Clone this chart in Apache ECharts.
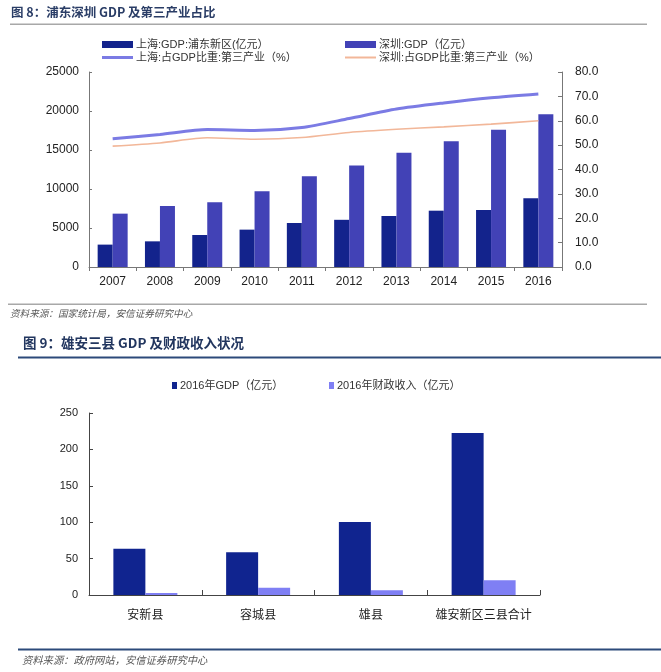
<!DOCTYPE html>
<html><head><meta charset="utf-8">
<script src="https://cdn.jsdelivr.net/npm/echarts@6/dist/echarts.min.js"></script>
<style>html,body{margin:0;padding:0;background:#fff}#c{width:661px;height:672px}</style>
</head><body><div id="c"></div>
<script>
// Chart 8 data
const years = ['2007','2008','2009','2010','2011','2012','2013','2014','2015','2016'];
const pudongGDP = [2870, 3290, 4100, 4790, 5640, 6050, 6540, 7220, 7310, 8800];
const shenzhenGDP = [6840, 7820, 8290, 9700, 11620, 13010, 14660, 16110, 17610, 19580];
const shanghaiTertiary = [52.6, 54.4, 56.4, 56.0, 57.2, 60.9, 64.8, 67.3, 69.4, 71.0];
const shenzhenTertiary = [49.6, 50.9, 53.0, 52.4, 53.1, 55.2, 56.5, 57.5, 58.6, 60.0];
// Chart 9 data
const counties = ['安新县','容城县','雄县','雄安新区三县合计'];
const gdp2016 = [63.6, 58.6, 100.3, 222.5];
const fiscal2016 = [2.7, 10.0, 6.4, 20.1];

const names = ['上海:GDP:浦东新区(亿元）','深圳:GDP（亿元）','上海:占GDP比重:第三产业（%）','深圳:占GDP比重:第三产业（%）','2016年GDP（亿元）','2016年财政收入（亿元）'];
const C = {dark:'#13238c', light:'#4242b6', sh:'#7b7be4', sz:'#f2b799', d2:'#10248f', l2:'#7f7ff4'};
const font = '"Liberation Sans", "Noto Sans CJK SC", sans-serif';
const txt = {color:'#333', fontSize:11, fontFamily:font};

function lg(name, left, top, icon, w, h) {
  return {data:[name], left:left, top:top, icon:icon, itemWidth:w, itemHeight:h, padding:0, itemGap:0, textStyle:Object.assign({}, txt, {padding:[0,0,0,-2]}), selectedMode:false};
}

const chart = echarts.init(document.getElementById('c'), null, {renderer:'canvas'});
chart.setOption({
  animation:false,
  backgroundColor:'#fff',
  textStyle:{fontFamily:font},
  legend:[
    lg(names[0], 102, 39, 'rect', 31, 7),
    lg(names[1], 345, 39, 'rect', 31, 7),
    lg(names[2], 102, 52, 'rect', 31, 3),
    lg(names[3], 345, 52, 'rect', 31, 2),
    lg(names[4], 172, 380, 'rect', 5, 7),
    lg(names[5], 329, 380, 'rect', 5, 7)
  ],
  grid:[
    {left:89, width:473, top:72, height:195},
    {left:89, width:451, top:413, height:182}
  ],
  xAxis:[
    {type:'category', gridIndex:0, data:years,
     axisLine:{lineStyle:{color:'#777'}}, axisTick:{show:true, length:4, lineStyle:{color:'#777'}},
     axisLabel:{color:'#222', fontSize:12, margin:9, fontFamily:font, interval:0}},
    {type:'category', gridIndex:1, data:counties,
     axisLine:{lineStyle:{color:'#444'}}, axisTick:{show:true, inside:true, length:5, lineStyle:{color:'#444'}},
     axisLabel:{color:'#222', fontSize:12, margin:15, fontFamily:font, interval:0}}
  ],
  yAxis:[
    {type:'value', gridIndex:0, min:0, max:25000, interval:5000, splitLine:{show:false},
     axisLine:{show:true, lineStyle:{color:'#777'}}, axisTick:{show:true, inside:true, length:3, lineStyle:{color:'#777'}},
     axisLabel:{color:'#222', fontSize:12, margin:10, fontFamily:font, formatter:v=>String(v)}},
    {type:'value', gridIndex:0, position:'right', min:0, max:80, interval:10, splitLine:{show:false},
     axisLine:{show:true, lineStyle:{color:'#777'}}, axisTick:{show:true, inside:true, length:4, lineStyle:{color:'#777'}},
     axisLabel:{color:'#222', fontSize:12, margin:13, fontFamily:font, formatter:v=>v.toFixed(1)}},
    {type:'value', gridIndex:1, min:0, max:250, interval:50, splitLine:{show:false},
     axisLine:{show:true, lineStyle:{color:'#444'}}, axisTick:{show:true, inside:true, length:4, lineStyle:{color:'#444'}},
     axisLabel:{color:'#222', fontSize:11, margin:11, fontFamily:font, formatter:v=>String(v)}}
  ],
  series:[
    {name:names[0], type:'bar', xAxisIndex:0, yAxisIndex:0, data:pudongGDP, barWidth:15, barGap:'0%', itemStyle:{color:C.dark}},
    {name:names[1], type:'bar', xAxisIndex:0, yAxisIndex:0, data:shenzhenGDP, barWidth:15, barGap:'0%', itemStyle:{color:C.light}},
    {name:names[2], type:'line', xAxisIndex:0, yAxisIndex:1, data:shanghaiTertiary, showSymbol:false, symbol:'none', smooth:0.25, lineStyle:{color:C.sh, width:3}, itemStyle:{color:C.sh}},
    {name:names[3], type:'line', xAxisIndex:0, yAxisIndex:1, data:shenzhenTertiary, showSymbol:false, symbol:'none', smooth:0.25, lineStyle:{color:C.sz, width:1.6}, itemStyle:{color:C.sz}},
    {name:names[4], type:'bar', xAxisIndex:1, yAxisIndex:2, data:gdp2016, barWidth:32, barGap:'0%', itemStyle:{color:C.d2}},
    {name:names[5], type:'bar', xAxisIndex:1, yAxisIndex:2, data:fiscal2016, barWidth:32, barGap:'0%', itemStyle:{color:C.l2}}
  ],
  graphic:[
    {type:'text', left:11, top:6, style:{text:'图 8：浦东深圳 GDP 及第三产业占比', fill:'#2a3d66', font:'bold 12.5px "Noto Sans CJK SC", sans-serif'}},
    {type:'rect', shape:{x:10, y:23.5, width:637, height:1.6}, style:{fill:'#a8a8a8'}},
    {type:'rect', shape:{x:8, y:303.5, width:639, height:1.6}, style:{fill:'#a8a8a8'}},
    {type:'text', left:10, top:309, style:{text:'资料来源：国家统计局，安信证券研究中心', fill:'#555', font:'italic 9.6px "Noto Sans CJK SC", serif'}},
    {type:'text', left:23, top:336, style:{text:'图 9：雄安三县 GDP 及财政收入状况', fill:'#22365f', font:'bold 13.5px "Noto Sans CJK SC", sans-serif'}},
    {type:'rect', shape:{x:18, y:356.5, width:643, height:2}, style:{fill:'#2c4a7a'}},
    {type:'rect', shape:{x:18, y:648.5, width:643, height:2}, style:{fill:'#2c4a7a'}},
    {type:'text', left:22, top:655, style:{text:'资料来源：政府网站，安信证券研究中心', fill:'#555', font:'italic 10.3px "Noto Sans CJK SC", serif'}}
  ]
});
</script></body></html>
